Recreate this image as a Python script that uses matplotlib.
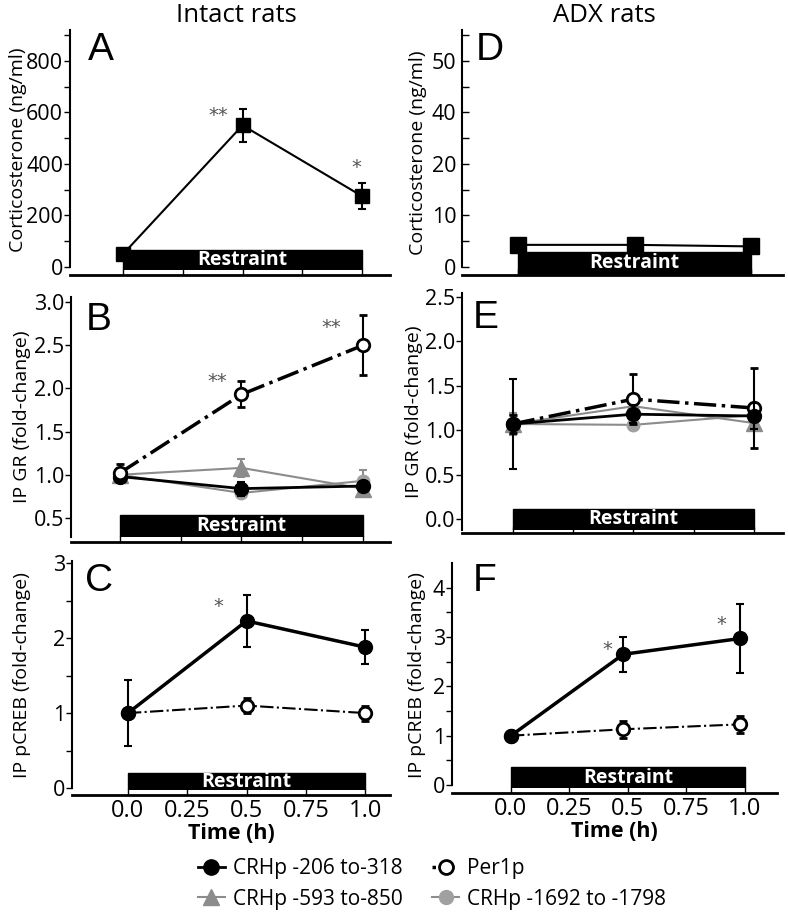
import matplotlib
matplotlib.use("Agg")
import matplotlib.pyplot as plt
from matplotlib.lines import Line2D
from matplotlib.ticker import FormatStrFormatter

plt.rcParams['font.family'] = ['Open Sans', 'DejaVu Sans']

# ---- data ----
times = [0.0, 0.5, 1.0]
times_F = [0.0, 0.48, 0.98]
restraint = (0.0, 1.0)

# A: intact corticosterone
cort_intact = [50, 550, 275]
cort_intact_err = [8, 65, 50]
# D: ADX corticosterone (tick positions 0,10,20,30,40 are printed as 0,10,20,40,50)
cort_adx = [4.3, 4.3, 4.0]
adx_ticks = [0, 10, 20, 30, 40]
adx_ticklabels = ['0', '10', '20', '40', '50']

# B: intact IP GR
gr_intact = {
    'crh1692': ([1.00, 0.79, 0.93], [0.06, 0.05, 0.12]),
    'crh593': ([1.00, 1.08, 0.84], [0.08, 0.10, 0.09]),
    'crh206': ([0.98, 0.84, 0.87], [0.06, 0.08, 0.06]),
    'per1': ([1.02, 1.93, 2.50], [0.10, 0.15, 0.35]),
}
# E: ADX IP GR
gr_adx = {
    'crh1692': ([1.07, 1.06, 1.17], [0.10, 0.06, 0.08]),
    'crh593': ([1.07, 1.27, 1.08], [0.12, 0.10, 0.08]),
    'crh206': ([1.07, 1.18, 1.16], [0.51, 0.10, 0.15]),
    'per1': ([1.07, 1.35, 1.25], [0.10, 0.28, 0.45]),
}
# C / F: IP pCREB
creb_intact = {
    'crh206': ([1.0, 2.23, 1.88], [0.44, 0.35, 0.23]),
    'per1': ([1.0, 1.10, 1.00], [0.02, 0.10, 0.10]),
}
creb_adx = {
    'crh206': ([1.0, 2.65, 2.97], [0.07, 0.36, 0.70]),
    'per1': ([1.0, 1.13, 1.23], [0.03, 0.17, 0.17]),
}

stars_A = [(0.40, 590, '**'), (0.975, 385, '*')]
stars_B = [(0.40, 2.08, '**'), (0.87, 2.71, '**')]
stars_C = [(0.38, 2.42, '*')]
stars_F = [(0.41, 2.74, '*'), (0.90, 3.25, '*')]

legend_labels = {
    'crh206': 'CRHp -206 to-318',
    'per1': 'Per1p',
    'crh593': 'CRHp -593 to-850',
    'crh1692': 'CRHp -1692 to -1798',
}

GRAY = '#8c8c8c'
styles = {
    'crh206': dict(color='black', marker='o', mfc='black', mec='black', ms=10, ls='-', lw=2),
    'per1': dict(color='black', marker='o', mfc='white', mec='black', mew=2, ms=9, ls='-.', lw=2.5),
    'crh593': dict(color=GRAY, marker='^', mfc=GRAY, mec=GRAY, ms=11, ls='-', lw=1.5),
    'crh1692': dict(color=GRAY, marker='o', mfc='#a0a0a0', mec='#a0a0a0', ms=9, ls='-', lw=1.5),
}

W, H = 788, 914
fig = plt.figure(figsize=(W / 100, H / 100), dpi=100)


def px_axes(l, t, r, b):
    return fig.add_axes([l / W, 1 - b / H, (r - l) / W, (b - t) / H])


def setup(ax, box, xlim, ylim, bar, outward, ylabel, spine_low, label_x, show_x=False):
    l, t, r, b = box
    ax.set_xlim(*xlim)
    ax.set_ylim(*ylim)
    for s in ['top', 'right']:
        ax.spines[s].set_visible(False)
    ax.spines['left'].set_linewidth(1.5)
    ax.spines['bottom'].set_linewidth(2)
    ax.spines['bottom'].set_position(('outward', outward))
    ax.spines['left'].set_bounds(spine_low, ylim[1])
    ax.set_xticks([0, 0.25, 0.5, 0.75, 1.0])
    ax.tick_params(axis='x', direction='in', length=4, width=1, labelsize=17, pad=3)
    ax.tick_params(axis='y', direction='out', length=4, width=1, labelsize=15.5, pad=1)
    ax.tick_params(axis='y', which='minor', direction='out', length=4, width=1)
    if show_x:
        ax.set_xticklabels(['0.0', '0.25', '0.5', '0.75', '1.0'])
        ax.set_xlabel('Time (h)', fontsize=15.5, fontweight='bold', labelpad=0)
    else:
        ax.set_xticklabels([])
    ax.set_ylabel(ylabel, fontsize=14)
    ax.yaxis.set_label_coords((label_x + 10 - l) / (r - l), 0.5)
    tr = ax.get_xaxis_transform()
    ax.axvspan(restraint[0], restraint[1], ymin=bar[0], ymax=bar[1], color='black', zorder=1)
    ax.text((restraint[0] + restraint[1]) / 2, (bar[0] + bar[1]) / 2, 'Restraint', transform=tr,
            ha='center', va='center', color='white', fontsize=14, fontweight='bold', zorder=2)


def draw(ax, t, series, order):
    for i, key in enumerate(order):
        vals, err = series[key]
        st = dict(styles[key])
        ax.errorbar(t, vals, yerr=err, capsize=3, elinewidth=1.5, capthick=1.5,
                    ecolor=st['color'], zorder=3 + i, **st)


def stars(ax, items):
    for x, y, s in items:
        ax.text(x, y, s, ha='center', va='center', fontsize=14, color='#555555',
                family='DejaVu Sans')


# A
boxA = (70, 30, 390, 270)
axA = px_axes(*boxA)
setup(axA, boxA, (-0.222, 1.117), (-11.7, 920), (0.0, 0.083), 3.6,
      'Corticosterone (ng/ml)', 0, 17)
axA.set_yticks([0, 200, 400, 600, 800])
axA.set_yticks([100, 300, 500, 700, 900], minor=True)
axA.errorbar(times, cort_intact, yerr=cort_intact_err, color='black', marker='s', ms=10,
             lw=1.5, capsize=3, elinewidth=1.5, capthick=1.5, zorder=3)
stars(axA, stars_A)

# D
boxD = (462, 30, 783, 275)
axD = px_axes(*boxD)
setup(axD, boxD, (-0.24, 1.137), (-1.55, 46), (0.0, 0.094), 0,
      'Corticosterone (ng/ml)', 0, 417)
axD.set_yticks(adx_ticks)
axD.set_yticklabels(adx_ticklabels)
axD.set_yticks([5, 15, 25, 35, 45], minor=True)
axD.tick_params(axis='y', which='both', direction='in', length=5)
axD.tick_params(axis='y', pad=4)
axD.plot(times, cort_adx, color='black', marker='s', ms=11, lw=1.5, zorder=3)

order_gr = ['crh1692', 'crh593', 'crh206', 'per1']

# B
boxB = (71, 297, 390, 537)
axB = px_axes(*boxB)
setup(axB, boxB, (-0.2, 1.11), (0.28, 3.058), (0.0, 0.092), 3.6,
      'IP GR (fold-change)', 0.28, 21)
axB.set_yticks([0.5, 1.0, 1.5, 2.0, 2.5, 3.0])
axB.yaxis.set_major_formatter(FormatStrFormatter('%.1f'))
draw(axB, times, gr_intact, order_gr)
stars(axB, stars_B)

# E
boxE = (462, 293, 783, 530)
axE = px_axes(*boxE)
setup(axE, boxE, (-0.21, 1.12), (-0.124, 2.545), (0.004, 0.089), 2.2,
      'IP GR (fold-change)', -0.124, 413)
axE.set_yticks([0.0, 0.5, 1.0, 1.5, 2.0, 2.5])
axE.yaxis.set_major_formatter(FormatStrFormatter('%.1f'))
draw(axE, times, gr_adx, ['crh1692', 'crh593', 'per1', 'crh206'])

# C
boxC = (72, 561, 390, 790)
axC = px_axes(*boxC)
setup(axC, boxC, (-0.236, 1.105), (-0.027, 3.03), (0.0, 0.074), 3.6,
      'IP pCREB (fold-change)', 0, 21, show_x=True)
axC.set_yticks([0, 1, 2, 3])
axC.set_yticks([0.5, 1.5, 2.5], minor=True)
draw(axC, times, creb_intact, ['per1', 'crh206'])
stars(axC, stars_C)

# F
boxF = (452, 563, 777, 788)
axF = px_axes(*boxF)
setup(axF, boxF, (-0.252, 1.137), (-0.06, 4.5), (0.0, 0.093), 3.6,
      'IP pCREB (fold-change)', 0, 416, show_x=True)
axF.set_yticks([0, 1, 2, 3, 4])
axF.set_yticks([0.5, 1.5, 2.5, 3.5], minor=True)
draw(axF, times_F, creb_adx, ['per1', 'crh206'])
stars(axF, stars_F)

# thinner dash-dot, thicker solid in C and F
for ax in (axC, axF):
    for ln in ax.get_lines():
        if ln.get_linestyle() == '-.':
            ln.set_linewidth(1.5)
        elif ln.get_linestyle() == '-' and ln.get_color() == 'black' and len(ln.get_xdata()) == 3:
            ln.set_linewidth(2.5)

# column titles and panel letters
fig.text(236 / W, 1 - 16 / H, 'Intact rats', ha='center', va='center', fontsize=18.5)
fig.text(604 / W, 1 - 16 / H, 'ADX rats', ha='center', va='center', fontsize=18.5)
for letter, (x, y) in {'A': (88, 32), 'D': (476, 32), 'B': (86, 302), 'E': (473, 300),
                       'C': (85, 563), 'F': (473, 563)}.items():
    fig.text(x / W, 1 - y / H, letter, ha='left', va='top', fontsize=28,
             family='Liberation Sans')

# legend
handles, labels = [], []
for key in ['crh206', 'crh593', 'per1', 'crh1692']:
    st = dict(styles[key])
    if key == 'per1':
        st['ls'] = ':'
    st['ms'] = st['ms'] + 1
    handles.append(Line2D([], [], **st))
    labels.append(legend_labels[key])
fig.legend(handles, labels, ncol=2, loc='center', bbox_to_anchor=(432 / W, 1 - 884 / H),
           frameon=False, fontsize=15, handlelength=1.3, handletextpad=0.4,
           columnspacing=1.4, labelspacing=0.45)

fig.savefig('out.png', dpi=100)
